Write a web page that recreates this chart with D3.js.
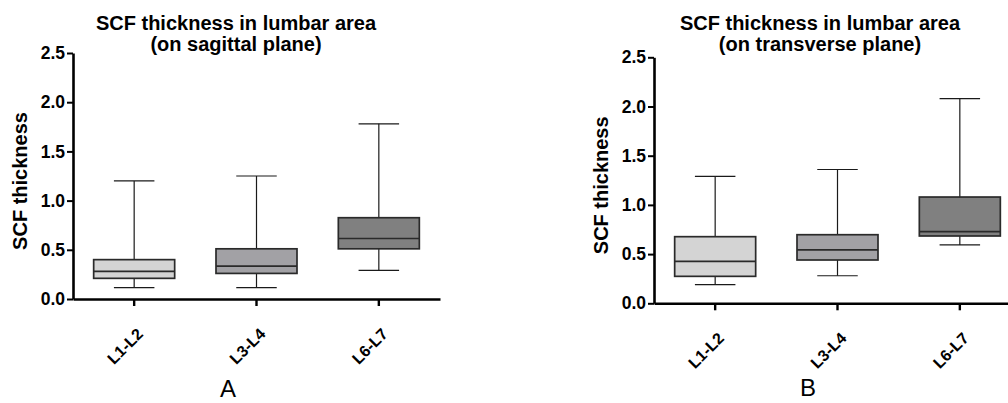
<!DOCTYPE html>
<html><head><meta charset="utf-8">
<script src="https://cdn.jsdelivr.net/npm/d3@7"></script>
<style>
html,body{margin:0;padding:0;background:#fff;}
text{font-family:"Liberation Sans",Arial,sans-serif;}
</style></head>
<body>
<svg id="c" width="1008" height="403"></svg>
<script>
const categories = ["L1-L2", "L3-L4", "L6-L7"];
const fills = ["#d4d4d4", "#a2a1a5", "#808080"];
const yTicks = [0, 0.5, 1.0, 1.5, 2.0, 2.5];
// [whiskerLow, Q1, median, Q3, whiskerHigh]
const sagittal = [
  [0.115, 0.21, 0.28, 0.40, 1.20],
  [0.115, 0.26, 0.335, 0.51, 1.25],
  [0.29, 0.51, 0.615, 0.826, 1.78]
];
const transverse = [
  [0.19, 0.274, 0.427, 0.677, 1.29],
  [0.28, 0.44, 0.542, 0.697, 1.36],
  [0.593, 0.684, 0.728, 1.08, 2.08]
];
const panels = [
  {data: sagittal, title: ["SCF thickness in lumbar area", "(on sagittal plane)"], letter: "A",
   x0: 73, x1: 440, yTop: 53, yBot: 299, titleX: 236, ylabX: 20, letterX: 228, letterY: 397},
  {data: transverse, title: ["SCF thickness in lumbar area", "(on transverse plane)"], letter: "B",
   x0: 654, x1: 1021, yTop: 57.3, yBot: 303.3, titleX: 820, ylabX: 601, letterX: 808, letterY: 396}
];
const svg = d3.select("#c");
panels.forEach(p => {
  const g = svg.append("g");
  const x = d3.scaleBand().domain(categories).range([p.x0, p.x1]).padding(0);
  const y = d3.scaleLinear().domain([0, 2.5]).range([p.yBot, p.yTop]);
  const bw = 81;
  categories.forEach((c, i) => {
    const d = p.data[i];
    const cx = x(c) + x.bandwidth() / 2;
    g.append("line").attr("x1", cx).attr("x2", cx).attr("y1", y(d[0])).attr("y2", y(d[4]))
      .attr("stroke", "#1a1a1a").attr("stroke-width", 1.2);
    [d[0], d[4]].forEach(v => g.append("line").attr("x1", cx - bw / 4).attr("x2", cx + bw / 4)
      .attr("y1", y(v)).attr("y2", y(v)).attr("stroke", "#1a1a1a").attr("stroke-width", 1.2));
    g.append("rect").attr("x", cx - bw / 2).attr("width", bw).attr("y", y(d[3]))
      .attr("height", y(d[1]) - y(d[3])).attr("fill", fills[i]).attr("stroke", "#2a2a2a").attr("stroke-width", 1.7);
    g.append("line").attr("x1", cx - bw / 2).attr("x2", cx + bw / 2).attr("y1", y(d[2])).attr("y2", y(d[2]))
      .attr("stroke", "#2a2a2a").attr("stroke-width", 1.7);
  });
  const ya = g.append("g").attr("transform", `translate(${p.x0},0)`)
    .call(d3.axisLeft(y).tickValues(yTicks).tickFormat(d3.format(".1f")).tickSize(6).tickSizeOuter(0));
  ya.select(".domain").attr("stroke", "#000").attr("stroke-width", 2.6);
  ya.selectAll(".tick line").attr("stroke", "#000").attr("stroke-width", 2);
  ya.selectAll(".tick text").attr("font-size", 17.5).attr("font-weight", "bold").attr("fill", "#000")
    .attr("font-family", "Liberation Sans, Arial, sans-serif").attr("x", -8);
  const xa = g.append("g").attr("transform", `translate(0,${p.yBot})`)
    .call(d3.axisBottom(x).tickSize(7).tickSizeOuter(0));
  xa.select(".domain").attr("stroke", "#000").attr("stroke-width", 2.6);
  xa.selectAll(".tick line").attr("stroke", "#000").attr("stroke-width", 2.4);
  xa.selectAll(".tick text").attr("font-size", 16).attr("font-weight", "bold").attr("fill", "#000")
    .attr("font-family", "Liberation Sans, Arial, sans-serif")
    .attr("text-anchor", "end").attr("dy", "0.35em").attr("y", 0)
    .attr("transform", "translate(6,32) rotate(-45)");
  g.append("text").attr("transform", `translate(${p.ylabX},${(p.yTop + p.yBot) / 2 + 5}) rotate(-90)`)
    .attr("text-anchor", "middle").attr("dy", "0.35em").attr("font-size", 20).attr("font-weight", "bold")
    .text("SCF thickness");
  g.append("text").attr("x", p.titleX).attr("y", 30).attr("text-anchor", "middle")
    .attr("font-size", 20).attr("font-weight", "bold").text(p.title[0]);
  g.append("text").attr("x", p.titleX).attr("y", 51).attr("text-anchor", "middle")
    .attr("font-size", 20).attr("font-weight", "bold").text(p.title[1]);
  g.append("text").attr("x", p.letterX).attr("y", p.letterY).attr("text-anchor", "middle")
    .attr("font-size", 24).text(p.letter);
});
</script>
</body></html>
